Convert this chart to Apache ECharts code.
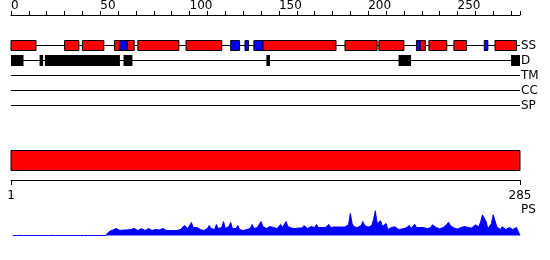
<!DOCTYPE html>
<html><head><meta charset="utf-8">
<script src="https://cdn.jsdelivr.net/npm/echarts@6/dist/echarts.min.js"></script>
<style>html,body{margin:0;padding:0;background:#fff}#c{width:550px;height:260px}</style>
</head><body><div id="c"></div>
<script>
const seqLength = 285;
const rowLabels = ['SS', 'D', 'TM', 'CC', 'SP'];
const rulerTicks = [1, 285];
const helixSegments = [[1,14],[31,38],[41,52],[59,61],[66,69],[72,94],[99,118],[142,182],[188,205],[207,220],[230,232],[235,244],[249,255],[272,283]];
const strandSegments = [[62,65],[124,128],[132,133],[137,141],[228,229],[266,267]];
const disorderSegments = [[1,7],[17,18],[20,61],[64,68],[144,145],[218,224],[281,285]];
const psValues = [
0,0,0,0,0,0,0,0,0,0,
0,0,0,0,0,0,0,0,0,0,
0,0,0,0,0,0,0,0,0,0,
0,0,0,0,0,0,0,0,0,0,
0,0,0,0,0,0,0,0,0,0,
0,0,0,0,4,5,5.5,6,7,5.5,
5,6,5.5,7,5.5,5,6,6.5,7,5.5,
5,6,7,5.5,5,6,7,6,5,5.5,
6,7,5.5,6,7,5.5,5,5,5,5,
5,5,5,5,6,8,10,8,7,9,
13,8,7,8,9,6,5,5,6,7,
10,7,6,6,11,7,6,8,14,7,
6,9,13,7,5,7,10,6,5,5,
6,6,6,7,11,7,6,8,11,14,
9,7,7,8,9,11,8,7,7,9,
11,8,11,14,9,8,7.5,7.5,7,8,
7.5,7,7.5,10,9,7,7.5,9,8,8,
11,8,7,8,9,8,10,11,8,7,
8.5,9,8.5,9,8.5,9,8.5,9,11,22,
12,8.7,7.3,8,9.3,10,14,10,8,8.5,
9.3,10,16,24.7,12,10,14.7,9,8,12,
6,7,8,8,8.7,7,6,6,6.5,6.7,
7.5,8,10,7,6,11.3,8,7.3,8,8.7,
8,7.5,6.7,7,8,10.7,9,8,7,6.7,
7,8,9,11,13.3,10,8.7,7.5,6,6.5,
7,8,8,9,10,8,6.7,7.5,8.7,10.7,
9,8.7,14,20.7,20.7,14,6.7,7.5,12,20.7,
20.7,8.7,7,6,8.7,7,6,7,8,7,
6,7,8,9.3,0
];

const FONT = 'DejaVu Sans';
const chart = echarts.init(document.getElementById('c'), null, {renderer: 'canvas'});

function segRender(height, fill, stroke) {
  return function (params, api) {
    const s = api.value(0), e = api.value(1), row = api.value(2);
    const p0 = api.coord([s - 1, row]);
    const p1 = api.coord([e, row]);
    return {
      type: 'rect',
      shape: {x: p0[0], y: p0[1] - height / 2, width: p1[0] - p0[0], height: height},
      style: {fill: fill, stroke: stroke || null, lineWidth: stroke ? 1 : 0}
    };
  };
}

const rowLineData = rowLabels.map((r, i) => [0, seqLength, i]);
const rowIndex = name => rowLabels.indexOf(name);

chart.setOption({
  animation: false,
  backgroundColor: '#fff',
  textStyle: {fontFamily: FONT, fontSize: 12, color: '#000'},
  grid: [
    {left: 11, right: 30, top: 38, height: 75},
    {left: 11, right: 30, top: 150, height: 30},
    {left: 11, right: 30, top: 209.5, height: 26}
  ],
  xAxis: [
    {
      gridIndex: 0, type: 'value', min: 0, max: seqLength, interval: 10,
      position: 'top', offset: 23,
      axisLine: {show: true, lineStyle: {color: '#000', width: 1}},
      axisTick: {show: true, length: 4, lineStyle: {color: '#000'}},
      splitLine: {show: false},
      axisLabel: {
        show: true, interval: 0, hideOverlap: false, align: 'left', margin: 3,
        color: '#000', fontFamily: FONT, fontSize: 12,
        formatter: v => (v % 50 === 0 ? String(v) : '')
      }
    },
    {
      gridIndex: 1, type: 'value', min: rulerTicks[0], max: rulerTicks[1],
      position: 'bottom',
      axisLine: {show: true, lineStyle: {color: '#000', width: 1}},
      axisTick: {show: true, length: 5, customValues: rulerTicks, lineStyle: {color: '#000'}},
      splitLine: {show: false},
      axisLabel: {show: true, customValues: rulerTicks, margin: 10, color: '#000', fontFamily: FONT, fontSize: 12}
    },
    {gridIndex: 2, type: 'value', min: 0, max: seqLength, show: false}
  ],
  yAxis: [
    {
      gridIndex: 0, type: 'category', data: rowLabels, inverse: true, position: 'right',
      axisLine: {show: false}, axisTick: {show: false}, splitLine: {show: false},
      axisLabel: {show: true, interval: 0, hideOverlap: false, margin: 1, align: 'left', color: '#000', fontFamily: FONT, fontSize: 12}
    },
    {gridIndex: 1, type: 'value', min: 0, max: 1, show: false},
    {gridIndex: 2, type: 'value', min: 0, max: 26, show: false}
  ],
  graphic: [
    {type: 'text', x: 521, y: 210, style: {text: 'PS', fill: '#000', font: '12px "DejaVu Sans"', verticalAlign: 'middle', align: 'left'}}
  ],
  series: [
    {
      type: 'custom', xAxisIndex: 0, yAxisIndex: 0, silent: true,
      data: rowLineData, encode: {x: [0, 1], y: 2},
      renderItem: function (params, api) {
        const p0 = api.coord([api.value(0), api.value(2)]);
        const p1 = api.coord([api.value(1), api.value(2)]);
        return {type: 'line', shape: {x1: p0[0], y1: p0[1], x2: p1[0], y2: p1[1]}, style: {stroke: '#000', lineWidth: 1}};
      }
    },
    {
      type: 'custom', xAxisIndex: 0, yAxisIndex: 0, silent: true,
      data: helixSegments.map(s => [s[0], s[1], rowIndex('SS')]), encode: {x: [0, 1], y: 2},
      renderItem: segRender(10, '#ff0000', '#000')
    },
    {
      type: 'custom', xAxisIndex: 0, yAxisIndex: 0, silent: true,
      data: strandSegments.map(s => [s[0], s[1], rowIndex('SS')]), encode: {x: [0, 1], y: 2},
      renderItem: segRender(10, '#0000ff', '#000')
    },
    {
      type: 'custom', xAxisIndex: 0, yAxisIndex: 0, silent: true,
      data: disorderSegments.map(s => [s[0], s[1], rowIndex('D')]), encode: {x: [0, 1], y: 2},
      renderItem: segRender(11, '#000', null)
    },
    {
      type: 'custom', xAxisIndex: 1, yAxisIndex: 1, silent: true,
      data: [[rulerTicks[0], rulerTicks[1]]], encode: {x: [0, 1]},
      renderItem: function (params, api) {
        const p0 = api.coord([api.value(0), 1]);
        const p1 = api.coord([api.value(1), 1]);
        return {type: 'rect', shape: {x: p0[0], y: p0[1] + 0.5, width: p1[0] - p0[0], height: 20},
          style: {fill: '#ff0000', stroke: '#000', lineWidth: 1}};
      }
    },
    {
      type: 'line', xAxisIndex: 2, yAxisIndex: 2, silent: true,
      data: psValues.map((v, i) => [i + 1, v]),
      symbol: 'none', smooth: false,
      lineStyle: {color: '#0000ff', width: 1},
      areaStyle: {color: '#0000ff', opacity: 1}
    }
  ]
});
</script>
</body></html>
